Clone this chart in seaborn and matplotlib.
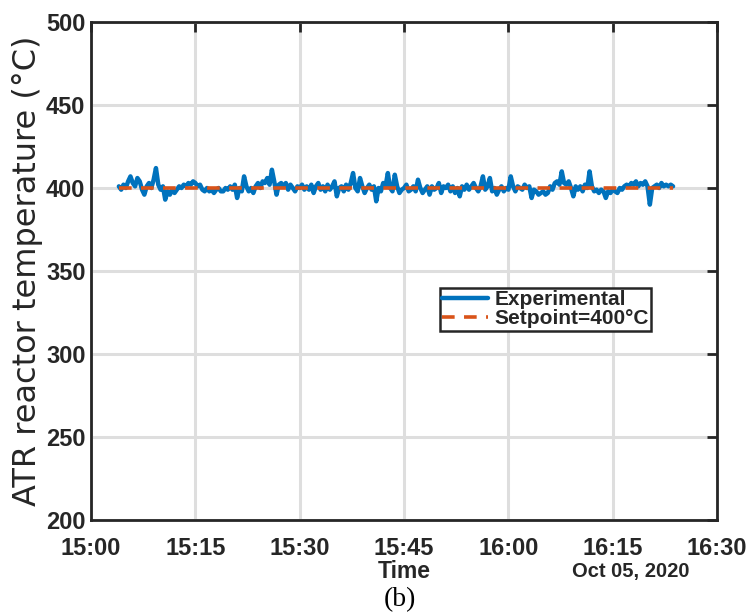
import matplotlib
matplotlib.use("Agg")
import matplotlib.pyplot as plt
import matplotlib.dates as mdates
import numpy as np
import pandas as pd
import seaborn as sns

# Reactor temperature log, one reading every 20 s starting 15:04
start_time = "2020-10-05 15:04:00"
reactor_temp = [
    401, 399, 402, 400, 404, 407, 403, 401, 406, 404, 399, 396,   # 15:04-15:07
    401, 403, 400, 405, 412, 402, 399, 401, 393, 398, 396, 399,   # 15:08-15:11
    397, 399, 401, 400, 402, 401, 403, 402, 404, 403, 401, 402,   # 15:12-15:15
    399, 398, 400, 398, 399, 397, 399, 400, 398, 398, 400, 399,   # 15:16-15:19
    401, 399, 402, 394, 400, 398, 407, 401, 398, 400, 397, 401,   # 15:20-15:23
    403, 400, 404, 403, 406, 402, 411, 404, 396, 402, 403, 401,   # 15:24-15:27
    403, 399, 402, 400, 398, 401, 400, 402, 399, 401, 399, 402,   # 15:28-15:31
    397, 401, 403, 399, 401, 398, 402, 399, 401, 404, 395, 400,   # 15:32-15:35
    401, 398, 402, 399, 403, 409, 400, 398, 406, 401, 397, 400,   # 15:36-15:39
    402, 399, 401, 392, 400, 398, 403, 401, 409, 400, 398, 408,   # 15:40-15:43
    401, 397, 399, 400, 402, 398, 399, 401, 398, 405, 400, 397,   # 15:44-15:47
    399, 401, 396, 401, 399, 400, 403, 397, 401, 400, 402, 398,   # 15:48-15:51
    401, 397, 400, 395, 401, 399, 402, 399, 401, 403, 400, 398,   # 15:52-15:55
    401, 407, 399, 401, 406, 398, 400, 396, 399, 401, 398, 400,   # 15:56-15:59
    399, 407, 401, 398, 401, 400, 399, 402, 400, 401, 394, 399,   # 16:00-16:03
    398, 396, 397, 398, 396, 397, 401, 399, 403, 404, 402, 410,   # 16:04-16:07
    403, 402, 404, 400, 395, 401, 399, 401, 398, 402, 400, 410,   # 16:08-16:11
    401, 398, 399, 397, 399, 398, 394, 398, 397, 399, 398, 397,   # 16:12-16:15
    400, 399, 401, 402, 401, 403, 402, 404, 401, 403, 402, 404,   # 16:16-16:19
    401, 390, 400, 401, 402, 400, 403, 401, 402, 401, 402, 401,   # 16:20-16:23
]
setpoint_value = 400

# Axis settings
x_range = ["2020-10-05 15:00", "2020-10-05 16:30"]
y_range = [200, 500]
y_ticks = [200, 250, 300, 350, 400, 450, 500]
series_labels = ["Experimental", "Setpoint=400°C"]
x_title = "Time"
y_title = "ATR reactor temperature (°C)"
date_note = "Oct 05, 2020"
panel_tag = "(b)"

times = pd.date_range(start_time, periods=len(reactor_temp), freq="20s")
df = pd.DataFrame({
    "Time": times,
    "Experimental": reactor_temp,
    "Setpoint": [setpoint_value] * len(reactor_temp),
})

sns.set_style("white")
plt.rcParams["font.family"] = ["Liberation Sans", "DejaVu Sans"]

fig = plt.figure(figsize=(7.48, 6.15), dpi=100)
ax = fig.add_axes([0.1217, 0.1545, 0.837, 0.8097])

blue = "#0072BD"
orange = "#D95319"
ink = "#262626"

sns.lineplot(data=df, x="Time", y="Experimental", ax=ax, color=blue,
             linewidth=3.2, label=series_labels[0], zorder=3)
sns.lineplot(data=df, x="Time", y="Setpoint", ax=ax, color=orange,
             linewidth=2.6, label=series_labels[1], zorder=4)
ax.lines[1].set_dashes((3.5, 2.6))

ax.set_xlim(pd.Timestamp(x_range[0]), pd.Timestamp(x_range[1]))
ax.set_ylim(*y_range)
ax.set_yticks(y_ticks)
ax.xaxis.set_major_locator(mdates.MinuteLocator(byminute=[0, 15, 30, 45]))
ax.xaxis.set_major_formatter(mdates.DateFormatter("%H:%M"))

ax.grid(True, color="#dedede", linewidth=2.2)
ax.set_axisbelow(True)
for s in ax.spines.values():
    s.set_color(ink)
    s.set_linewidth(2)
ax.tick_params(axis="both", direction="in", length=7, width=2, color=ink,
               top=True, right=True, labelsize=17)
ax.tick_params(axis="x", pad=12)
ax.tick_params(axis="y", pad=4)
for lab in ax.get_xticklabels() + ax.get_yticklabels():
    lab.set_fontweight("bold")
    lab.set_color(ink)

ax.set_xlabel("")
ax.set_ylabel(y_title, fontsize=23, color=ink, labelpad=2,
              family=["DejaVu Sans"])

fig.text(0.540, 0.070, x_title, ha="center", va="center", fontsize=16.5,
         fontweight="bold", color=ink)
fig.text(0.843, 0.070, date_note, ha="center", va="center", fontsize=14.5,
         fontweight="bold", color=ink)
fig.text(0.535, 0.025, panel_tag, ha="center", va="center", fontsize=20,
         family=["Liberation Serif", "DejaVu Serif"], color="black")

leg = ax.legend(loc="upper left", bbox_to_anchor=(0.557, 0.466),
                frameon=True, fancybox=False, framealpha=1,
                edgecolor=ink, fontsize=15, handlelength=2.2,
                borderpad=0.12, labelspacing=0.0, handletextpad=0.3,
                borderaxespad=0)
leg.get_frame().set_linewidth(1.8)
for t in leg.get_texts():
    t.set_fontweight("bold")
    t.set_color(ink)

fig.savefig("out.png", dpi=100, facecolor="white")
